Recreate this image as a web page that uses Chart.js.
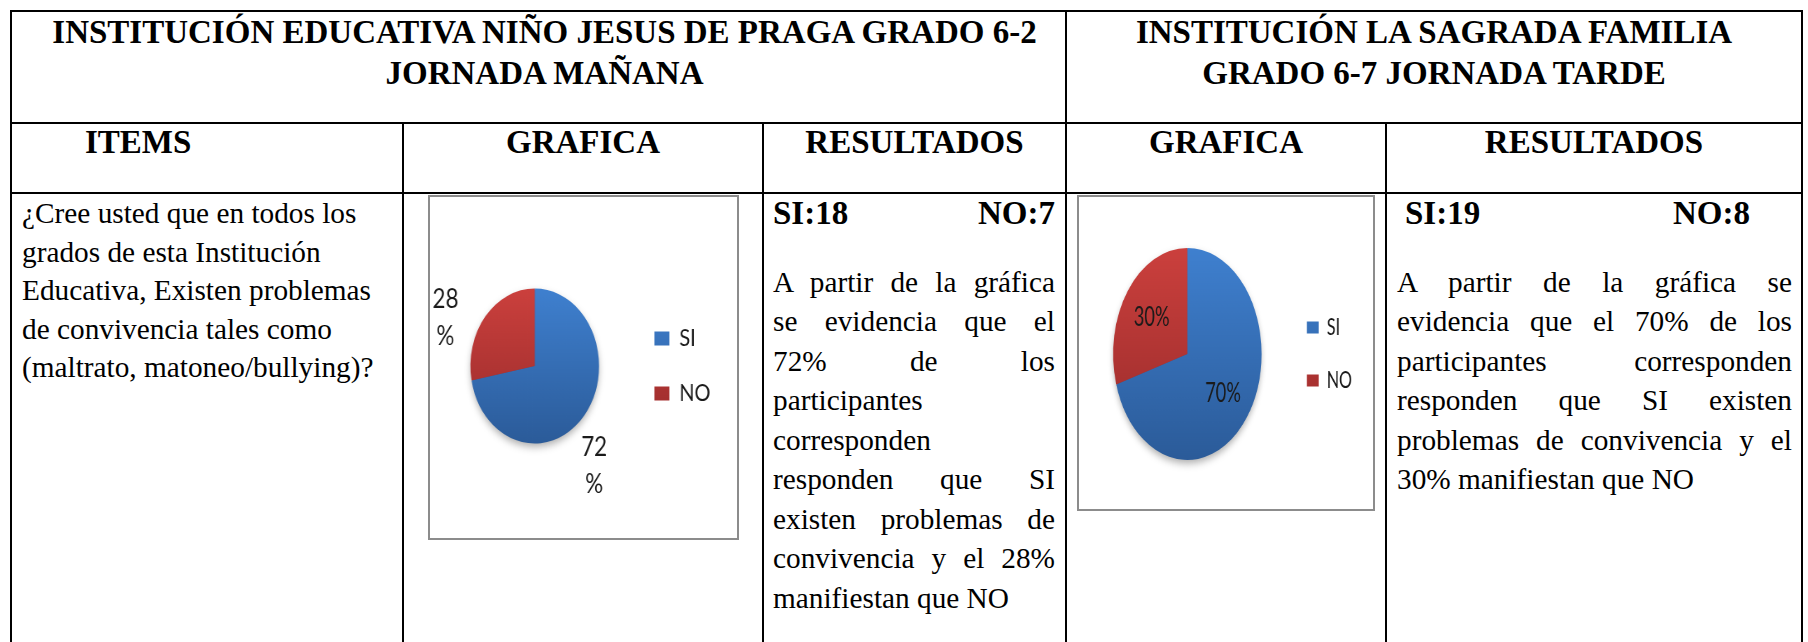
<!DOCTYPE html>
<html lang="es">
<head>
<meta charset="utf-8">
<title>Problemas de convivencia - resultados</title>
<script src="https://cdn.jsdelivr.net/npm/chart.js@4.4.1/dist/chart.umd.min.js"></script>
<style>
html, body { margin: 0; padding: 0; background: #fff; }
body { width: 1808px; height: 642px; overflow: hidden; position: relative;
  font-family: "Liberation Serif", "Times New Roman", serif; color: #000; }
.grid { position: absolute; left: 10px; top: 10px; display: grid;
  grid-template-columns: 390px 358px 301px 318px 414px;
  grid-template-rows: 110px 68px 500px; gap: 2px; padding: 2px; background: #000; }
.grid > div { background: #fff; box-sizing: border-box; }
.title { font-weight: bold; font-size: 33px; line-height: 41px; text-align: center; }
.t1 { grid-column: 1 / 4; padding-left: 12px; }
.t2 { grid-column: 4 / 6; }
.head { font-weight: bold; font-size: 33px; line-height: 36px; text-align: center; }
.items { text-align: left; padding-left: 73px; }
.txt { font-size: 29.3px; }
.pregunta { line-height: 38.5px; padding: 0 10px; }
.res { line-height: 39.5px; }
.r1 { padding: 0 10px 0 9px; }
.r2 { padding: 0 9px 0 10px; }
.conteo { display: flex; justify-content: space-between; font-weight: bold; font-size: 33px; }
.r2 .conteo span:first-child { margin-left: 8px; }
.r2 .conteo span:last-child { margin-right: 42px; }
.parrafo { margin-top: 29px; }
.parrafo div { text-align: justify; text-align-last: justify; }
.parrafo div.fin { text-align-last: left; }
.gbox { border: 2px solid #8c8c8c; box-sizing: border-box; overflow: hidden; margin-top: 1px; }
.g1 { margin-left: 24px; width: 311px; height: 345px; }
.g2 { margin-left: 10px; width: 298px; height: 316px; }
.plot { transform-origin: 0 0; position: relative; }
.p1 { width: 370px; height: 341px; transform: scaleX(0.8297); }
.p2 { width: 420px; height: 312px; transform: scaleX(0.7); }
</style>
</head>
<body>
<div class="grid">
  <div class="title t1">INSTITUCIÓN EDUCATIVA NIÑO JESUS DE PRAGA GRADO 6-2<br>JORNADA MAÑANA</div>
  <div class="title t2">INSTITUCIÓN LA SAGRADA FAMILIA<br>GRADO 6-7 JORNADA TARDE</div>

  <div class="head items">ITEMS</div>
  <div class="head">GRAFICA</div>
  <div class="head">RESULTADOS</div>
  <div class="head">GRAFICA</div>
  <div class="head">RESULTADOS</div>

  <div class="txt pregunta">¿Cree usted que en todos los<br>grados de esta Institución<br>Educativa, Existen problemas<br>de convivencia tales como<br>(maltrato, matoneo/bullying)?</div>
  <div><div class="gbox g1"><div class="plot p1"><canvas id="pie62"></canvas></div></div></div>
  <div class="txt res r1">
    <div class="conteo"><span id="si62"></span><span id="no62"></span></div>
    <div class="parrafo">
      <div>A partir de la gráfica</div>
      <div>se evidencia que el</div>
      <div><span class="pSi62"></span> de los</div>
      <div>participantes</div>
      <div>corresponden</div>
      <div>responden que SI</div>
      <div>existen problemas de</div>
      <div>convivencia y el <span class="pNo62"></span></div>
      <div class="fin">manifiestan que NO</div>
    </div>
  </div>
  <div><div class="gbox g2"><div class="plot p2"><canvas id="pie67"></canvas></div></div></div>
  <div class="txt res r2">
    <div class="conteo"><span id="si67"></span><span id="no67"></span></div>
    <div class="parrafo">
      <div>A partir de la gráfica se</div>
      <div>evidencia que el <span class="pSi67"></span> de los</div>
      <div>participantes corresponden</div>
      <div>responden que SI existen</div>
      <div>problemas de convivencia y el</div>
      <div class="fin"><span class="pNo67"></span> manifiestan que NO</div>
    </div>
  </div>
</div>

<script>
const respuestas = ['SI', 'NO'];
const grado62 = [18, 7];   // Niño Jesus de Praga, 6-2 mañana
const grado67 = [19, 8];   // La Sagrada Familia, 6-7 tarde
const colorArriba = ['#3f80cf', '#cb403d'];
const colorAbajo = ['#2b5b99', '#962a2a'];

function porcentaje(valores, i) {
  const total = valores.reduce((a, b) => a + b, 0);
  return Math.round(valores[i] / total * 100);
}

// texto de la tabla a partir de los conteos
document.getElementById('si62').textContent = 'SI:' + grado62[0];
document.getElementById('no62').textContent = 'NO:' + grado62[1];
document.getElementById('si67').textContent = 'SI:' + grado67[0];
document.getElementById('no67').textContent = 'NO:' + grado67[1];
document.querySelector('.pSi62').textContent = porcentaje(grado62, 0) + '%';
document.querySelector('.pNo62').textContent = porcentaje(grado62, 1) + '%';
document.querySelector('.pSi67').textContent = porcentaje(grado67, 0) + '%';
document.querySelector('.pNo67').textContent = porcentaje(grado67, 1) + '%';

function degradado(ctx) {
  const chart = ctx.chart;
  const i = ctx.dataIndex;
  const area = chart.chartArea;
  if (!area) return colorArriba[i];
  const r = chart.data.datasets[0].radius;
  const cy = (area.top + area.bottom) / 2;
  const g = chart.ctx.createLinearGradient(0, cy - r, 0, cy + r);
  g.addColorStop(0, colorArriba[i]);
  g.addColorStop(1, colorAbajo[i]);
  return g;
}

const sombra = {
  id: 'sombra',
  beforeDatasetsDraw(chart) {
    const arc = chart.getDatasetMeta(0).data[0];
    if (!arc) return;
    const {x, y, outerRadius} = arc.getProps(['x', 'y', 'outerRadius'], true);
    const c = chart.ctx;
    c.save();
    c.shadowColor = 'rgba(0,0,0,0.35)';
    c.shadowBlur = 8;
    c.shadowOffsetY = 4;
    c.beginPath();
    c.arc(x, y, outerRadius - 1, 0, Math.PI * 2);
    c.fillStyle = '#2b5b99';
    c.fill();
    c.restore();
  }
};

const etiquetas = {
  id: 'etiquetas',
  afterDatasetsDraw(chart, args, opts) {
    const c = chart.ctx;
    const valores = chart.data.datasets[0].data;
    c.save();
    c.font = opts.size + 'px Lato, "Open Sans", sans-serif';
    c.fillStyle = '#1a1a1a';
    c.textAlign = 'center';
    c.textBaseline = 'middle';
    chart.getDatasetMeta(0).data.forEach((arc, i) => {
      const {x, y, startAngle, endAngle, outerRadius} =
        arc.getProps(['x', 'y', 'startAngle', 'endAngle', 'outerRadius'], true);
      const mid = (startAngle + endAngle) / 2;
      const d = outerRadius * opts.distancia;
      const px = x + Math.cos(mid) * d + opts.dx;
      const py = y + Math.sin(mid) * d + opts.dy;
      const p = porcentaje(valores, i);
      if (opts.partir) {
        c.fillText(String(p), px, py);
        c.fillText('%', px, py + opts.salto);
      } else {
        c.fillText(p + '%', px, py);
      }
    });
    c.restore();
  }
};

function pastel(id, valores, cfg) {
  return new Chart(document.getElementById(id), {
    type: 'pie',
    data: {
      labels: respuestas,
      datasets: [{
        data: valores,
        radius: cfg.radio,
        backgroundColor: degradado,
        borderWidth: 0,
        hoverOffset: 0
      }]
    },
    options: {
      responsive: true,
      maintainAspectRatio: false,
      animation: false,
      events: [],
      layout: { padding: cfg.padding },
      plugins: {
        legend: {
          position: 'right',
          align: 'center',
          labels: {
            font: { family: 'Lato', size: cfg.leyenda },
            color: '#1a1a1a',
            boxWidth: cfg.caja[0],
            boxHeight: cfg.caja[1],
            padding: cfg.separacion
          }
        },
        tooltip: { enabled: false },
        etiquetas: cfg.etiquetas
      }
    },
    plugins: [sombra, etiquetas]
  });
}

pastel('pie62', grado62, {
  radio: 77.5,
  padding: { left: 13, right: 22, top: 0, bottom: 3 },
  leyenda: 24, caja: [18, 14], separacion: 31,
  etiquetas: { size: 27, distancia: 1.5, partir: true, salto: 37, dx: -18, dy: 7 }
});

pastel('pie67', grado67, {
  radio: 106,
  padding: { left: 14, right: 20, top: 2, bottom: 0 },
  leyenda: 23, caja: [17, 12], separacion: 30,
  etiquetas: { size: 26, distancia: 0.6, partir: false, dx: 0, dy: 2 }
});
</script>
</body>
</html>
